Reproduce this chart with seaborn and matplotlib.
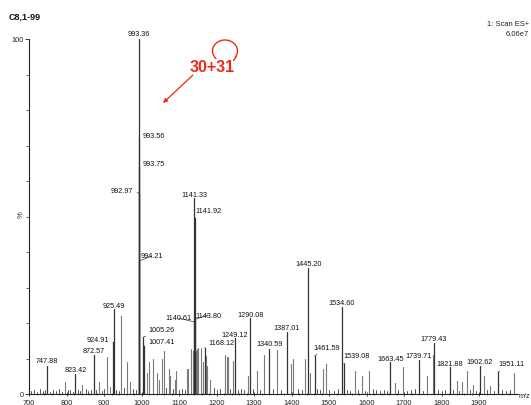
import matplotlib
matplotlib.use("Agg")
import matplotlib.pyplot as plt
from matplotlib.patches import Arc
import pandas as pd
import seaborn as sns

# Labelled peaks: m/z and relative intensity (%)
labelled_mz = [747.88, 823.42, 872.57, 924.91, 925.49, 992.97, 993.36, 993.56,
               993.75, 994.21, 1005.26, 1007.41, 1140.61, 1141.33, 1141.92,
               1143.80, 1168.12, 1249.12, 1290.08, 1340.59, 1387.01, 1445.20,
               1461.59, 1534.60, 1539.08, 1663.45, 1739.71, 1779.43, 1821.88,
               1902.62, 1951.11]
labelled_pct = [7.9, 5.6, 11.0, 14.6, 23.9, 56.6, 100.0, 72.0,
                64.0, 37.5, 16.0, 13.5, 20.3, 55.2, 49.6,
                21.1, 13.0, 15.7, 21.4, 12.7, 17.5, 35.5,
                10.7, 24.5, 8.5, 9.0, 9.6, 14.4, 7.6,
                7.9, 6.2]

# Unlabelled peaks
other_mz = [796, 842, 887, 908, 916, 945, 962, 968, 1015, 1020, 1031, 1041,
            1047, 1055, 1060, 1073, 1076, 1089, 1092, 1121, 1124, 1132, 1137,
            1145, 1148, 1151, 1159, 1164, 1172, 1175, 1183, 1223, 1228, 1231,
            1244, 1283, 1308, 1327, 1361, 1398, 1405, 1436, 1449, 1483, 1492,
            1569, 1588, 1607, 1677, 1697, 1761, 1777, 1840, 1855, 1868, 1884,
            1913, 1929, 1993]
other_pct = [3.4, 2.5, 3.4, 10.4, 2.0, 22.0, 9.0, 3.4, 6.0, 9.0, 10.0, 6.0,
             4.0, 10.0, 12.0, 7.0, 5.0, 4.0, 6.5, 7.0, 7.0, 12.7, 12.0,
             12.0, 12.7, 13.0, 13.0, 9.0, 10.7, 8.0, 4.0, 11.0, 10.5, 10.5,
             9.4, 5.2, 6.5, 11.0, 12.4, 8.5, 10.0, 10.0, 6.0, 7.0, 8.5,
             6.5, 5.0, 6.5, 3.0, 7.6, 5.0, 11.0, 3.6, 3.4, 6.5, 2.5,
             5.0, 2.2, 6.0]

# Baseline noise
noise_mz = [706, 713, 721, 729, 736, 743, 757, 764, 771, 779, 787, 803, 810,
            817, 831, 837, 851, 858, 865, 879, 895, 901, 933, 939, 953, 977,
            984, 1064, 1083, 1101, 1109, 1115, 1192, 1201, 1210, 1237, 1258,
            1266, 1274, 1297, 1316, 1350, 1372, 1418, 1427, 1469, 1476, 1501,
            1514, 1523, 1548, 1557, 1578, 1597, 1617, 1626, 1636, 1646, 1655,
            1685, 1708, 1718, 1728, 1750, 1790, 1800, 1810, 1831, 1847, 1876,
            1893, 1921, 1940, 1962, 1972, 1982]
noise_pct = [0.8, 1.1, 0.6, 1.3, 0.9, 1.0, 0.7, 1.2, 0.8, 1.4, 0.6, 1.0, 1.2,
             0.7, 1.1, 0.9, 1.3, 0.8, 1.0, 1.2, 0.9, 1.5, 1.2, 0.8, 1.6, 1.3,
             1.0, 1.8, 1.5, 1.2, 1.4, 1.1, 1.6, 1.2, 1.5, 1.3, 1.1, 1.4, 1.0,
             1.5, 1.2, 1.3, 1.1, 1.4, 1.2, 1.3, 1.0, 1.2, 0.9, 1.4, 1.1, 0.8,
             1.2, 0.9, 1.3, 1.0, 0.8, 1.1, 0.9, 1.2, 0.8, 1.0, 1.3, 0.9, 1.1,
             0.8, 1.0, 1.2, 0.9, 1.0, 0.8, 1.1, 0.9, 1.0, 0.8, 1.0]

x_ticks = [700, 800, 900, 1000, 1100, 1200, 1300, 1400, 1500, 1600, 1700, 1800, 1900]

# Label placement (pixel offsets from peak top: dx right, dy up)
label_offsets = {
    747.88: (0, 5), 823.42: (0, 5), 872.57: (0, 4), 924.91: (-15, 3),
    925.49: (0, 4), 992.97: (-17, 3), 993.36: (0, 6), 993.56: (15, 3),
    993.75: (15, 3), 994.21: (13, 5), 1005.26: (18, 8), 1007.41: (17, 5),
    1140.61: (-16, 4), 1141.33: (0, 4), 1141.92: (14, 7), 1143.80: (13, 4),
    1168.12: (17, 5), 1249.12: (0, 4), 1290.08: (0, 4), 1340.59: (0, 5),
    1387.01: (0, 4), 1445.20: (0, 4), 1461.59: (12, 9), 1534.60: (0, 5),
    1539.08: (13, 8), 1663.45: (0, 4), 1739.71: (0, 4), 1779.43: (0, 4),
    1821.88: (0, 4), 1902.62: (0, 4), 1951.11: (13, 8),
}


def sticks(mz, pct, tag):
    rows = []
    for i, (m, p) in enumerate(zip(mz, pct)):
        rows.append({"mz": m, "pct": 0.0, "peak": f"{tag}{i}"})
        rows.append({"mz": m, "pct": p, "peak": f"{tag}{i}"})
    return pd.DataFrame(rows)


sns.set_theme(style="white")
plt.rcParams["font.family"] = ["Liberation Sans", "DejaVu Sans"]

W, H, DPI = 531, 406, 100
fig = plt.figure(figsize=(W / DPI, H / DPI), dpi=DPI)
fig.patch.set_facecolor("white")

ax_left, ax_right, ax_top, ax_bottom = 29, 518, 40, 395
ax = fig.add_axes([ax_left / W, (H - ax_bottom) / H,
                   (ax_right - ax_left) / W, (ax_bottom - ax_top) / H])
ax.set_facecolor("none")

kw = dict(x="mz", y="pct", units="peak", estimator=None, sort=True,
          legend=False, ax=ax)
sns.lineplot(data=sticks(noise_mz, noise_pct, "n"), color="#555555", lw=0.7, **kw)
sns.lineplot(data=sticks(other_mz, other_pct, "o"), color="#7a7a7a", lw=0.8, **kw)
sns.lineplot(data=sticks(labelled_mz, labelled_pct, "l"), color="#333333", lw=0.9, **kw)

ax.set_xlim(700, 700 + (ax_right - ax_left) / 0.375)
ax.set_ylim(0, 100)
ax.set_xlabel("")
ax.set_ylabel("")

for s in ("top", "right"):
    ax.spines[s].set_visible(False)
for s in ("left", "bottom"):
    ax.spines[s].set_color("#222222")
    ax.spines[s].set_linewidth(0.8)

ax.set_xticks(x_ticks)
ax.set_xticklabels([str(t) for t in x_ticks])
ax.set_xticks(range(700, 2000, 20), minor=True)
ax.set_yticks([0, 100])
ax.set_yticklabels(["0", "100"])
ax.set_yticks(range(10, 100, 10), minor=True)
ax.tick_params(axis="x", which="major", direction="inout", length=3.5,
               width=0.6, pad=1.5, labelsize=5.3, colors="#222222", bottom=True)
ax.tick_params(axis="x", which="minor", direction="inout", length=2,
               width=0.5, bottom=True, colors="#222222")
ax.tick_params(axis="y", which="major", direction="out", length=3,
               width=0.6, pad=1, labelsize=5.3, colors="#222222", left=True)
ax.tick_params(axis="y", which="minor", direction="out", length=2,
               width=0.5, left=True, colors="#222222")

px2pt = 72.0 / DPI
for m, p in zip(labelled_mz, labelled_pct):
    dx, dy = label_offsets[m]
    arrow = None
    if dx != 0:
        arrow = dict(arrowstyle="-", color="#333333", lw=0.5,
                     shrinkA=0.5, shrinkB=0)
    ax.annotate(f"{m:.2f}", xy=(m, p), xytext=(dx * px2pt, dy * px2pt),
                textcoords="offset points", ha="center", va="center",
                fontsize=5.2, color="#111111", arrowprops=arrow,
                annotation_clip=False)

# Free text and markup in pixel space
ov = fig.add_axes([0, 0, 1, 1], zorder=5)
ov.set_xlim(0, W)
ov.set_ylim(H, 0)
ov.axis("off")
ov.patch.set_alpha(0)

ov.text(9, 17, "C8,1-99", fontsize=6.5, fontweight="bold", va="center",
        ha="left", color="#111111")
ov.text(529, 25, "1: Scan ES+", fontsize=5.4, va="center", ha="right",
        color="#222222")
ov.text(529, 34, "6.06e7", fontsize=5.4, va="center", ha="right",
        color="#222222")
ov.text(21, 215, "%", fontsize=5.5, rotation=90, va="center", ha="center",
        color="#222222")
ov.text(530, 397, "m/z", fontsize=5.2, va="center", ha="right",
        color="#222222")

red = "#ee2a1a"
ov.text(212, 67, "30+31", fontsize=11.5, fontweight="bold", color=red,
        ha="center", va="center")
ov.add_patch(Arc((225, 52), 25, 22, theta1=-222, theta2=32, color=red, lw=1.0))
ov.plot([236, 233.5], [58, 61.5], color=red, lw=1.0)
ov.annotate("", xy=(163, 104), xytext=(193, 76),
            arrowprops=dict(arrowstyle="-|>", color=red, lw=0.9,
                            mutation_scale=6, shrinkA=0, shrinkB=0))

fig.savefig("out.png", dpi=DPI)
